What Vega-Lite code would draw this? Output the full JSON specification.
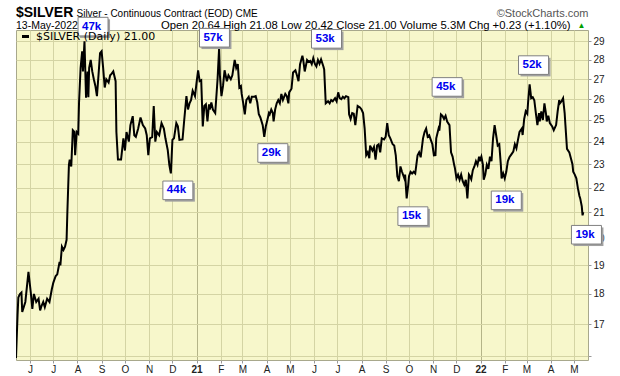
{
  "$schema": "https://vega.github.io/schema/vega-lite/v6.json",
  "autosize": {"type": "none"},
  "width": 572,
  "height": 330,
  "padding": {"left": 16, "top": 30, "right": 32, "bottom": 16},
  "background": "white",
  "title": {
    "text": "$SILVER",
    "subtitle": "13-May-2022",
    "anchor": "start",
    "frame": "group",
    "orient": "top",
    "font": "Liberation Sans",
    "fontSize": 14,
    "fontWeight": "bold",
    "color": "#000000",
    "subtitleFont": "Liberation Sans",
    "subtitleFontSize": 10.5,
    "subtitleColor": "#000000",
    "subtitlePadding": 1.5,
    "offset": -24
  },
  "datasets": {
    "silver": [
      {"date": "2020-05-14", "close": 15.95},
      {"date": "2020-05-16", "close": 17.3},
      {"date": "2020-05-17", "close": 17.88},
      {"date": "2020-05-19", "close": 18.0},
      {"date": "2020-05-21", "close": 18.05},
      {"date": "2020-05-22", "close": 17.4},
      {"date": "2020-05-26", "close": 17.73},
      {"date": "2020-05-30", "close": 18.77},
      {"date": "2020-06-02", "close": 18.05},
      {"date": "2020-06-04", "close": 17.5},
      {"date": "2020-06-06", "close": 18.0},
      {"date": "2020-06-09", "close": 17.73},
      {"date": "2020-06-12", "close": 17.84},
      {"date": "2020-06-14", "close": 17.45},
      {"date": "2020-06-16", "close": 17.61},
      {"date": "2020-06-18", "close": 17.73},
      {"date": "2020-06-20", "close": 17.56},
      {"date": "2020-06-23", "close": 17.84},
      {"date": "2020-06-26", "close": 17.73},
      {"date": "2020-06-29", "close": 18.16},
      {"date": "2020-07-01", "close": 18.39},
      {"date": "2020-07-04", "close": 18.62},
      {"date": "2020-07-06", "close": 18.68},
      {"date": "2020-07-09", "close": 19.12},
      {"date": "2020-07-10", "close": 19.0},
      {"date": "2020-07-12", "close": 19.68},
      {"date": "2020-07-14", "close": 19.56},
      {"date": "2020-07-16", "close": 19.68},
      {"date": "2020-07-18", "close": 19.94},
      {"date": "2020-07-19", "close": 21.0},
      {"date": "2020-07-21", "close": 22.97},
      {"date": "2020-07-22", "close": 23.2},
      {"date": "2020-07-24", "close": 22.9},
      {"date": "2020-07-26", "close": 24.52},
      {"date": "2020-07-28", "close": 24.44},
      {"date": "2020-07-29", "close": 23.39},
      {"date": "2020-07-31", "close": 24.44},
      {"date": "2020-08-02", "close": 24.36},
      {"date": "2020-08-03", "close": 25.84},
      {"date": "2020-08-05", "close": 27.58},
      {"date": "2020-08-07", "close": 28.46},
      {"date": "2020-08-08", "close": 27.4},
      {"date": "2020-08-10", "close": 29.0},
      {"date": "2020-08-12", "close": 26.07},
      {"date": "2020-08-14", "close": 27.4},
      {"date": "2020-08-15", "close": 26.1},
      {"date": "2020-08-16", "close": 27.58},
      {"date": "2020-08-18", "close": 28.0},
      {"date": "2020-08-20", "close": 27.4},
      {"date": "2020-08-22", "close": 27.0},
      {"date": "2020-08-24", "close": 26.66},
      {"date": "2020-08-26", "close": 26.15},
      {"date": "2020-08-28", "close": 27.2},
      {"date": "2020-08-30", "close": 28.36},
      {"date": "2020-09-01", "close": 28.46},
      {"date": "2020-09-03", "close": 27.58},
      {"date": "2020-09-05", "close": 26.58},
      {"date": "2020-09-07", "close": 27.0},
      {"date": "2020-09-10", "close": 26.83},
      {"date": "2020-09-12", "close": 27.2},
      {"date": "2020-09-14", "close": 27.29},
      {"date": "2020-09-16", "close": 27.4},
      {"date": "2020-09-19", "close": 26.9},
      {"date": "2020-09-20", "close": 24.44},
      {"date": "2020-09-22", "close": 23.2},
      {"date": "2020-09-26", "close": 23.2},
      {"date": "2020-09-29", "close": 24.15},
      {"date": "2020-10-01", "close": 23.6},
      {"date": "2020-10-03", "close": 24.44},
      {"date": "2020-10-06", "close": 24.0},
      {"date": "2020-10-08", "close": 24.76},
      {"date": "2020-10-11", "close": 25.18},
      {"date": "2020-10-13", "close": 24.29},
      {"date": "2020-10-15", "close": 24.22},
      {"date": "2020-10-18", "close": 24.6},
      {"date": "2020-10-21", "close": 25.12},
      {"date": "2020-10-24", "close": 24.76},
      {"date": "2020-10-27", "close": 24.6},
      {"date": "2020-10-29", "close": 24.29},
      {"date": "2020-10-31", "close": 23.39},
      {"date": "2020-11-02", "close": 24.15},
      {"date": "2020-11-05", "close": 24.2},
      {"date": "2020-11-07", "close": 25.67},
      {"date": "2020-11-09", "close": 24.0},
      {"date": "2020-11-11", "close": 24.44},
      {"date": "2020-11-14", "close": 24.29},
      {"date": "2020-11-17", "close": 24.85},
      {"date": "2020-11-20", "close": 24.6},
      {"date": "2020-11-22", "close": 24.15},
      {"date": "2020-11-25", "close": 23.62},
      {"date": "2020-11-27", "close": 22.97},
      {"date": "2020-11-29", "close": 22.6},
      {"date": "2020-12-01", "close": 24.08},
      {"date": "2020-12-03", "close": 24.15},
      {"date": "2020-12-06", "close": 24.85},
      {"date": "2020-12-08", "close": 24.7},
      {"date": "2020-12-10", "close": 24.08},
      {"date": "2020-12-14", "close": 24.1},
      {"date": "2020-12-16", "close": 24.93},
      {"date": "2020-12-19", "close": 26.15},
      {"date": "2020-12-21", "close": 25.5},
      {"date": "2020-12-23", "close": 25.8},
      {"date": "2020-12-25", "close": 25.96},
      {"date": "2020-12-27", "close": 26.42},
      {"date": "2020-12-30", "close": 26.15},
      {"date": "2021-01-01", "close": 26.83},
      {"date": "2021-01-03", "close": 27.46},
      {"date": "2021-01-05", "close": 26.9},
      {"date": "2021-01-07", "close": 26.95},
      {"date": "2021-01-09", "close": 24.7},
      {"date": "2021-01-11", "close": 25.67},
      {"date": "2021-01-13", "close": 25.75},
      {"date": "2021-01-15", "close": 24.93},
      {"date": "2021-01-17", "close": 25.75},
      {"date": "2021-01-18", "close": 25.5},
      {"date": "2021-01-20", "close": 25.84},
      {"date": "2021-01-22", "close": 25.5},
      {"date": "2021-01-25", "close": 25.33},
      {"date": "2021-01-28", "close": 27.0},
      {"date": "2021-01-30", "close": 28.64},
      {"date": "2021-01-31", "close": 27.2},
      {"date": "2021-02-02", "close": 26.15},
      {"date": "2021-02-04", "close": 26.66},
      {"date": "2021-02-06", "close": 27.46},
      {"date": "2021-02-09", "close": 26.9},
      {"date": "2021-02-11", "close": 27.2},
      {"date": "2021-02-14", "close": 27.0},
      {"date": "2021-02-16", "close": 27.2},
      {"date": "2021-02-19", "close": 28.0},
      {"date": "2021-02-21", "close": 27.58},
      {"date": "2021-02-23", "close": 27.78},
      {"date": "2021-02-25", "close": 26.58},
      {"date": "2021-02-27", "close": 26.65},
      {"date": "2021-02-28", "close": 26.26},
      {"date": "2021-03-02", "close": 25.8},
      {"date": "2021-03-04", "close": 25.27},
      {"date": "2021-03-06", "close": 25.96},
      {"date": "2021-03-09", "close": 26.12},
      {"date": "2021-03-11", "close": 25.8},
      {"date": "2021-03-13", "close": 26.12},
      {"date": "2021-03-16", "close": 26.12},
      {"date": "2021-03-18", "close": 26.15},
      {"date": "2021-03-20", "close": 25.85},
      {"date": "2021-03-22", "close": 25.27},
      {"date": "2021-03-24", "close": 25.12},
      {"date": "2021-03-27", "close": 24.76},
      {"date": "2021-03-29", "close": 24.22},
      {"date": "2021-03-31", "close": 24.7},
      {"date": "2021-04-02", "close": 25.0},
      {"date": "2021-04-04", "close": 25.33},
      {"date": "2021-04-05", "close": 25.27},
      {"date": "2021-04-07", "close": 25.5},
      {"date": "2021-04-09", "close": 25.33},
      {"date": "2021-04-10", "close": 24.93},
      {"date": "2021-04-12", "close": 25.5},
      {"date": "2021-04-14", "close": 25.8},
      {"date": "2021-04-16", "close": 25.96},
      {"date": "2021-04-18", "close": 25.8},
      {"date": "2021-04-20", "close": 26.26},
      {"date": "2021-04-22", "close": 25.96},
      {"date": "2021-04-25", "close": 26.26},
      {"date": "2021-04-27", "close": 26.15},
      {"date": "2021-04-29", "close": 25.8},
      {"date": "2021-04-30", "close": 26.34},
      {"date": "2021-05-03", "close": 26.52},
      {"date": "2021-05-05", "close": 27.35},
      {"date": "2021-05-08", "close": 27.46},
      {"date": "2021-05-10", "close": 27.2},
      {"date": "2021-05-12", "close": 26.9},
      {"date": "2021-05-14", "close": 27.78},
      {"date": "2021-05-17", "close": 28.22},
      {"date": "2021-05-18", "close": 28.03},
      {"date": "2021-05-20", "close": 27.4},
      {"date": "2021-05-23", "close": 28.0},
      {"date": "2021-05-25", "close": 27.9},
      {"date": "2021-05-27", "close": 27.95},
      {"date": "2021-05-29", "close": 27.78},
      {"date": "2021-05-31", "close": 28.1},
      {"date": "2021-06-02", "close": 27.8},
      {"date": "2021-06-04", "close": 27.66},
      {"date": "2021-06-06", "close": 28.0},
      {"date": "2021-06-08", "close": 27.8},
      {"date": "2021-06-10", "close": 28.03},
      {"date": "2021-06-13", "close": 27.66},
      {"date": "2021-06-14", "close": 27.5},
      {"date": "2021-06-16", "close": 25.8},
      {"date": "2021-06-19", "close": 25.9},
      {"date": "2021-06-21", "close": 25.8},
      {"date": "2021-06-23", "close": 25.96},
      {"date": "2021-06-25", "close": 25.9},
      {"date": "2021-06-28", "close": 26.05},
      {"date": "2021-06-30", "close": 25.9},
      {"date": "2021-07-02", "close": 26.34},
      {"date": "2021-07-04", "close": 26.05},
      {"date": "2021-07-06", "close": 26.0},
      {"date": "2021-07-08", "close": 26.12},
      {"date": "2021-07-10", "close": 26.05},
      {"date": "2021-07-12", "close": 26.15},
      {"date": "2021-07-15", "close": 26.1},
      {"date": "2021-07-16", "close": 25.27},
      {"date": "2021-07-18", "close": 25.05},
      {"date": "2021-07-20", "close": 25.33},
      {"date": "2021-07-22", "close": 25.3},
      {"date": "2021-07-24", "close": 24.76},
      {"date": "2021-07-27", "close": 25.67},
      {"date": "2021-07-30", "close": 25.6},
      {"date": "2021-08-01", "close": 25.5},
      {"date": "2021-08-03", "close": 25.33},
      {"date": "2021-08-05", "close": 24.6},
      {"date": "2021-08-07", "close": 23.39},
      {"date": "2021-08-09", "close": 23.52},
      {"date": "2021-08-11", "close": 23.26},
      {"date": "2021-08-12", "close": 23.82},
      {"date": "2021-08-15", "close": 23.6},
      {"date": "2021-08-17", "close": 23.76},
      {"date": "2021-08-19", "close": 23.2},
      {"date": "2021-08-21", "close": 23.82},
      {"date": "2021-08-23", "close": 23.88},
      {"date": "2021-08-25", "close": 23.52},
      {"date": "2021-08-27", "close": 24.15},
      {"date": "2021-08-30", "close": 24.1},
      {"date": "2021-09-01", "close": 24.22},
      {"date": "2021-09-03", "close": 24.85},
      {"date": "2021-09-05", "close": 24.29},
      {"date": "2021-09-07", "close": 24.15},
      {"date": "2021-09-10", "close": 23.88},
      {"date": "2021-09-12", "close": 23.82},
      {"date": "2021-09-14", "close": 23.39},
      {"date": "2021-09-16", "close": 22.48},
      {"date": "2021-09-18", "close": 22.27},
      {"date": "2021-09-20", "close": 22.9},
      {"date": "2021-09-22", "close": 22.67},
      {"date": "2021-09-25", "close": 22.39},
      {"date": "2021-09-26", "close": 22.55},
      {"date": "2021-09-28", "close": 21.56},
      {"date": "2021-09-30", "close": 22.12},
      {"date": "2021-10-01", "close": 22.48},
      {"date": "2021-10-03", "close": 22.67},
      {"date": "2021-10-05", "close": 22.6},
      {"date": "2021-10-07", "close": 22.67},
      {"date": "2021-10-09", "close": 22.6},
      {"date": "2021-10-12", "close": 23.39},
      {"date": "2021-10-14", "close": 23.52},
      {"date": "2021-10-16", "close": 23.3},
      {"date": "2021-10-19", "close": 24.15},
      {"date": "2021-10-21", "close": 24.44},
      {"date": "2021-10-23", "close": 24.6},
      {"date": "2021-10-25", "close": 24.22},
      {"date": "2021-10-27", "close": 24.29},
      {"date": "2021-10-29", "close": 24.08},
      {"date": "2021-10-31", "close": 23.88},
      {"date": "2021-11-02", "close": 23.39},
      {"date": "2021-11-04", "close": 23.4},
      {"date": "2021-11-05", "close": 24.15},
      {"date": "2021-11-08", "close": 24.6},
      {"date": "2021-11-09", "close": 24.5},
      {"date": "2021-11-11", "close": 25.27},
      {"date": "2021-11-13", "close": 25.2},
      {"date": "2021-11-15", "close": 25.05},
      {"date": "2021-11-17", "close": 25.2},
      {"date": "2021-11-19", "close": 24.93},
      {"date": "2021-11-22", "close": 24.76},
      {"date": "2021-11-24", "close": 23.52},
      {"date": "2021-11-26", "close": 23.33},
      {"date": "2021-11-28", "close": 22.97},
      {"date": "2021-11-29", "close": 22.83},
      {"date": "2021-12-01", "close": 22.39},
      {"date": "2021-12-03", "close": 22.55},
      {"date": "2021-12-05", "close": 22.33},
      {"date": "2021-12-07", "close": 22.55},
      {"date": "2021-12-09", "close": 22.27},
      {"date": "2021-12-11", "close": 22.12},
      {"date": "2021-12-13", "close": 22.33},
      {"date": "2021-12-15", "close": 21.56},
      {"date": "2021-12-17", "close": 22.55},
      {"date": "2021-12-18", "close": 22.5},
      {"date": "2021-12-20", "close": 22.35},
      {"date": "2021-12-22", "close": 22.74},
      {"date": "2021-12-24", "close": 22.9},
      {"date": "2021-12-26", "close": 23.13},
      {"date": "2021-12-28", "close": 22.97},
      {"date": "2021-12-30", "close": 23.33},
      {"date": "2021-12-31", "close": 23.13},
      {"date": "2022-01-02", "close": 23.33},
      {"date": "2022-01-04", "close": 22.97},
      {"date": "2022-01-05", "close": 22.33},
      {"date": "2022-01-07", "close": 22.55},
      {"date": "2022-01-09", "close": 22.97},
      {"date": "2022-01-11", "close": 22.8},
      {"date": "2022-01-13", "close": 23.33},
      {"date": "2022-01-15", "close": 23.13},
      {"date": "2022-01-17", "close": 24.15},
      {"date": "2022-01-19", "close": 24.76},
      {"date": "2022-01-21", "close": 24.29},
      {"date": "2022-01-23", "close": 23.82},
      {"date": "2022-01-25", "close": 23.88},
      {"date": "2022-01-27", "close": 22.97},
      {"date": "2022-01-28", "close": 22.39},
      {"date": "2022-01-30", "close": 22.6},
      {"date": "2022-02-01", "close": 22.39},
      {"date": "2022-02-03", "close": 22.67},
      {"date": "2022-02-05", "close": 23.13},
      {"date": "2022-02-07", "close": 23.3},
      {"date": "2022-02-10", "close": 23.45},
      {"date": "2022-02-12", "close": 23.55},
      {"date": "2022-02-14", "close": 23.88},
      {"date": "2022-02-16", "close": 23.7},
      {"date": "2022-02-18", "close": 24.08},
      {"date": "2022-02-20", "close": 24.44},
      {"date": "2022-02-23", "close": 24.6},
      {"date": "2022-02-24", "close": 24.3},
      {"date": "2022-02-26", "close": 25.05},
      {"date": "2022-02-28", "close": 25.41},
      {"date": "2022-03-02", "close": 25.3},
      {"date": "2022-03-03", "close": 25.84},
      {"date": "2022-03-05", "close": 26.74},
      {"date": "2022-03-07", "close": 26.05},
      {"date": "2022-03-09", "close": 26.1},
      {"date": "2022-03-11", "close": 25.95},
      {"date": "2022-03-13", "close": 25.33},
      {"date": "2022-03-15", "close": 24.76},
      {"date": "2022-03-17", "close": 25.33},
      {"date": "2022-03-18", "close": 24.93},
      {"date": "2022-03-20", "close": 25.41},
      {"date": "2022-03-22", "close": 25.0},
      {"date": "2022-03-24", "close": 25.8},
      {"date": "2022-03-26", "close": 25.3},
      {"date": "2022-03-27", "close": 24.93},
      {"date": "2022-03-29", "close": 25.2},
      {"date": "2022-03-31", "close": 24.85},
      {"date": "2022-04-03", "close": 24.7},
      {"date": "2022-04-05", "close": 24.52},
      {"date": "2022-04-08", "close": 24.76},
      {"date": "2022-04-10", "close": 25.41},
      {"date": "2022-04-12", "close": 25.96},
      {"date": "2022-04-13", "close": 25.8},
      {"date": "2022-04-15", "close": 25.9},
      {"date": "2022-04-17", "close": 26.05},
      {"date": "2022-04-19", "close": 25.33},
      {"date": "2022-04-20", "close": 24.76},
      {"date": "2022-04-22", "close": 23.67},
      {"date": "2022-04-25", "close": 23.52},
      {"date": "2022-04-27", "close": 23.26},
      {"date": "2022-04-29", "close": 23.0},
      {"date": "2022-04-30", "close": 22.67},
      {"date": "2022-05-02", "close": 22.55},
      {"date": "2022-05-04", "close": 22.39},
      {"date": "2022-05-06", "close": 21.98},
      {"date": "2022-05-08", "close": 21.66},
      {"date": "2022-05-09", "close": 21.56},
      {"date": "2022-05-11", "close": 21.24},
      {"date": "2022-05-12", "close": 20.88},
      {"date": "2022-05-13", "close": 21.0}
    ],
    "ann": [
      {"date": "2020-08-21", "price": 29.82, "label": "47k"},
      {"date": "2020-12-08", "price": 21.89, "label": "44k"},
      {"date": "2021-01-24", "price": 29.2, "label": "57k"},
      {"date": "2021-04-09", "price": 23.49, "label": "29k"},
      {"date": "2021-06-17", "price": 29.14, "label": "53k"},
      {"date": "2021-10-06", "price": 20.85, "label": "15k"},
      {"date": "2021-11-19", "price": 26.61, "label": "45k"},
      {"date": "2022-02-03", "price": 21.48, "label": "19k"},
      {"date": "2022-03-10", "price": 27.73, "label": "52k"},
      {"date": "2022-05-17", "price": 20.13, "label": "19k"}
    ]
  },
  "layer": [
    {
      "data": {"name": "silver"},
      "mark": {"type": "line", "strokeWidth": 2, "clip": true},
      "encoding": {
        "x": {
          "field": "date", "type": "temporal",
          "scale": {"type": "utc", "domain": [{"year": 2020, "month": 5, "date": 14, "utc": true}, {"year": 2022, "month": 5, "date": 19, "utc": true}]},
          "axis": {
            "orient": "bottom",
            "tickCount": {"interval": "month", "step": 1},
            "labelExpr": "utcmonth(datum.value) == 0 ? utcFormat(datum.value, '%y') : substring(utcFormat(datum.value, '%b'), 0, 1)",
            "labelFont": "Liberation Sans",
            "labelFontSize": 10,
            "labelColor": "#222222",
            "labelFontWeight": {"condition": {"test": "utcmonth(datum.value) == 0", "value": "bold"}, "value": "normal"},
            "labelOverlap": false,
            "labelFlush": false,
            "labelPadding": 1,
            "grid": true,
            "gridColor": {"condition": {"test": "utcmonth(datum.value) == 0", "value": "#B4B488"}, "value": "#D4D4A4"},
            "tickSize": 3,
            "tickColor": "#999999",
            "domain": false,
            "title": "▲",
            "titleX": 565,
            "titleY": -333,
            "titleAlign": "center",
            "titleBaseline": "alphabetic",
            "titleColor": "#00A000",
            "titleFontSize": 8,
            "titleFontWeight": "normal"
          }
        },
        "y": {
          "field": "close", "type": "quantitative",
          "scale": {"type": "log", "domain": [15.89, 29.63], "nice": false},
          "axis": {
            "orient": "right",
            "values": [16, 17, 18, 19, 20, 21, 22, 23, 24, 25, 26, 27, 28, 29],
            "format": "d",
            "labelExpr": "datum.value < 16.5 ? '' : datum.label",
            "labelFont": "Liberation Sans",
            "labelFontSize": 10,
            "labelColor": "#222222",
            "labelPadding": 2,
            "grid": true,
            "gridColor": "#D4D4A4",
            "tickSize": 3,
            "tickColor": "#999999",
            "domain": false,
            "title": "©StockCharts.com",
            "titleAngle": 0,
            "titleX": 0,
            "titleY": -13.5,
            "titleAlign": "right",
            "titleBaseline": "alphabetic",
            "titleFont": "Liberation Sans",
            "titleFontSize": 11,
            "titleFontWeight": "normal",
            "titleColor": "#555555"
          }
        },
        "color": {
          "datum": "$SILVER (Daily) 21.00",
          "scale": {"range": ["#000000"]},
          "legend": {
            "orient": "none",
            "legendX": 4,
            "legendY": 1,
            "title": null,
            "padding": 0,
            "symbolType": "stroke",
            "symbolSize": 49,
            "symbolStrokeWidth": 3,
            "labelFont": "DejaVu Sans",
            "labelFontSize": 11,
            "labelColor": "#000000",
            "labelOffset": 5
          }
        }
      }
    },
    {
      "data": {"name": "ann"},
      "mark": {"type": "point", "shape": "M-1,-0.62H1V0.62H-1Z", "size": 900, "filled": true, "color": "#A0A0A0", "opacity": 1, "strokeWidth": 0, "xOffset": 2, "yOffset": 2, "clip": false},
      "encoding": {
        "x": {
          "field": "date", "type": "temporal",
          "scale": {"type": "utc", "domain": [{"year": 2020, "month": 5, "date": 14, "utc": true}, {"year": 2022, "month": 5, "date": 19, "utc": true}]},
          "axis": {
            "orient": "top", "labels": false, "ticks": false, "domain": false, "grid": false,
            "title": "Silver - Continuous Contract (EOD)  CME",
            "titleX": 60, "titleY": -13.5, "titleAlign": "left", "titleBaseline": "alphabetic",
            "titleFont": "Liberation Sans", "titleFontSize": 10, "titleFontWeight": "normal", "titleColor": "#000000"
          }
        },
        "y": {
          "field": "price", "type": "quantitative",
          "scale": {"type": "log", "domain": [15.89, 29.63], "nice": false},
          "axis": {
            "orient": "left", "labels": false, "ticks": false, "domain": false, "grid": false,
            "title": "Open 20.64  High 21.08  Low 20.42  Close 21.00  Volume 5.3M  Chg +0.23 (+1.10%)",
            "titleAngle": 0, "titleX": 554, "titleY": -1.5, "titleAlign": "right", "titleBaseline": "alphabetic",
            "titleFont": "Liberation Sans", "titleFontSize": 11.3, "titleFontWeight": "normal", "titleColor": "#000000"
          }
        }
      }
    },
    {
      "data": {"name": "ann"},
      "mark": {"type": "point", "shape": "M-1,-0.62H1V0.62H-1Z", "size": 900, "filled": true, "fill": "#FFFFFF", "stroke": "#808080", "strokeWidth": 1, "opacity": 1, "clip": false},
      "encoding": {
        "x": {"field": "date", "type": "temporal", "scale": {"type": "utc", "domain": [{"year": 2020, "month": 5, "date": 14, "utc": true}, {"year": 2022, "month": 5, "date": 19, "utc": true}]}, "axis": null},
        "y": {"field": "price", "type": "quantitative", "scale": {"type": "log", "domain": [15.89, 29.63], "nice": false}, "axis": null}
      }
    },
    {
      "data": {"name": "ann"},
      "mark": {"type": "text", "align": "left", "baseline": "middle", "dx": -11, "font": "Liberation Sans", "fontSize": 11.5, "fontWeight": "bold", "color": "#0000EE", "clip": false},
      "encoding": {
        "x": {"field": "date", "type": "temporal", "scale": {"type": "utc", "domain": [{"year": 2020, "month": 5, "date": 14, "utc": true}, {"year": 2022, "month": 5, "date": 19, "utc": true}]}, "axis": null},
        "y": {"field": "price", "type": "quantitative", "scale": {"type": "log", "domain": [15.89, 29.63], "nice": false}, "axis": null},
        "text": {"field": "label"}
      }
    }
  ],
  "resolve": {"axis": {"x": "independent", "y": "independent"}},
  "config": {
    "view": {"fill": "#F7F7CB", "stroke": "#A8A88C"},
    "font": "Liberation Sans"
  }
}
